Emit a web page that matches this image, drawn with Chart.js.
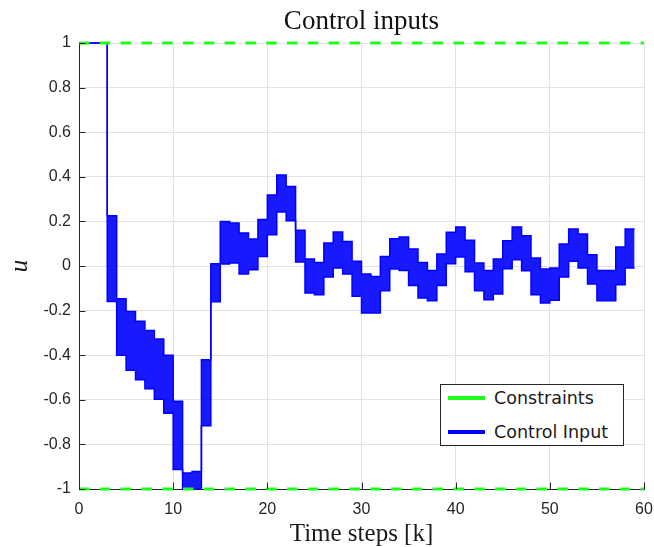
<!DOCTYPE html>
<html>
<head>
<meta charset="utf-8">
<title>Control inputs</title>
<script src="https://cdn.jsdelivr.net/npm/chart.js@4.4.0/dist/chart.umd.min.js"></script>
<style>
  html, body { margin: 0; padding: 0; background: #fff; }
  #wrap { position: relative; width: 654px; height: 547px; }
  #legend {
    position: absolute; left: 440px; top: 384px; width: 184px; height: 62px;
    box-sizing: border-box; border: 1px solid #262626; background: #fff;
    font-family: "DejaVu Sans", sans-serif; font-size: 17.5px; color: #1a1a1a;
  }
  #legend .row { position: absolute; left: 0; height: 20px; display: flex; align-items: center; white-space: nowrap; }
  #legend .swatch { width: 37px; height: 3.5px; margin-left: 7px; margin-right: 9px; }
</style>
</head>
<body>
<div id="wrap">
  <canvas id="chart"></canvas>
  <div id="legend"></div>
</div>
<script>
// time steps (the last one only closes the final hold)
const steps = [0, 1, 2, 3, 4, 5, 6, 7, 8, 9, 10, 11, 12, 13, 14, 15, 16, 17, 18, 19,
  20, 21, 22, 23, 24, 25, 26, 27, 28, 29, 30, 31, 32, 33, 34, 35, 36, 37, 38, 39,
  40, 41, 42, 43, 44, 45, 46, 47, 48, 49, 50, 51, 52, 53, 54, 55, 56, 57, 58, 59];

// upper / lower edge of the bundle of control input runs, held over step k = 0..58
const inputHigh = [1, 1, 1, 0.225, -0.147, -0.204, -0.248, -0.289, -0.327, -0.40,
  -0.607, -0.928, -0.922, -0.42, 0.01, 0.20, 0.193, 0.148, 0.121, 0.208,
  0.318, 0.408, 0.357, 0.16, 0.031, 0.016, 0.103, 0.152, 0.11, 0.021,
  -0.036, -0.047, 0.043, 0.122, 0.13, 0.076, 0.016, -0.02, 0.054, 0.151,
  0.175, 0.115, 0.013, -0.02, 0.031, 0.113, 0.175, 0.136, 0.036, -0.013,
  -0.009, 0.099, 0.166, 0.143, 0.051, -0.02, -0.02, 0.085, 0.166];
const inputLow = [1, 1, 1, -0.159, -0.40, -0.468, -0.51, -0.55, -0.597, -0.66,
  -0.913, -1.0, -1.0, -0.716, -0.16, 0.009, 0.013, -0.036, -0.017, 0.043,
  0.14, 0.242, 0.203, 0.018, -0.121, -0.129, -0.049, -0.009, -0.036, -0.136,
  -0.211, -0.211, -0.111, -0.013, -0.02, -0.087, -0.144, -0.156, -0.087, 0.01,
  0.04, -0.026, -0.111, -0.151, -0.126, -0.012, 0.028, -0.021, -0.129, -0.166,
  -0.154, -0.049, 0.021, -0.009, -0.081, -0.156, -0.156, -0.084, -0.009];

// constraints
const constraintX = [0, 60];
const uMax = [1, 1];
const uMin = [-1, -1];

const xTicks = [0, 10, 20, 30, 40, 50, 60];
const yTicks = [-1, -0.8, -0.6, -0.4, -0.2, 0, 0.2, 0.4, 0.6, 0.8, 1];

const GREEN = '#1fff1f';
const BLUE = '#0000ff';
const AXIS = '#262626';

// zero-order hold: each value is kept from step k to step k+1
function holdPoints(values) {
    const pts = [];
    values.forEach((v, i) => {
        pts.push({ x: steps[i], y: v });
        pts.push({ x: steps[i + 1], y: v });
    });
    return pts;
}

// MATLAB style ticks pointing into the plot
const inwardTicks = {
    id: 'inwardTicks',
    afterDraw(chart) {
        const { ctx, chartArea: a, scales: { x, y } } = chart;
        ctx.save();
        ctx.strokeStyle = AXIS;
        ctx.lineWidth = 1;
        ctx.beginPath();
        x.ticks.forEach(t => {
            const px = Math.round(x.getPixelForValue(t.value)) + 0.5;
            ctx.moveTo(px, a.bottom);
            ctx.lineTo(px, a.bottom - 6.5);
        });
        y.ticks.forEach(t => {
            const py = Math.round(y.getPixelForValue(t.value)) + 0.5;
            ctx.moveTo(a.left, py);
            ctx.lineTo(a.left + 6.5, py);
        });
        ctx.stroke();
        ctx.restore();
    }
};

const tickFont = { family: '"Liberation Sans", Arial, sans-serif', size: 16 };
const serif = '"Liberation Serif", "Times New Roman", serif';

new Chart(document.getElementById('chart'), {
    type: 'line',
    data: {
        datasets: [{
            label: 'Constraints',
            data: constraintX.map((x, i) => ({ x: x, y: uMax[i] })),
            borderColor: GREEN,
            borderWidth: 3,
            borderDash: [10.5, 10.3],
            pointRadius: 0,
            fill: false,
            clip: false,
            order: 0
        }, {
            label: 'Constraints (min)',
            data: constraintX.map((x, i) => ({ x: x, y: uMin[i] })),
            borderColor: GREEN,
            borderWidth: 3,
            borderDash: [10.5, 10.3],
            pointRadius: 0,
            fill: false,
            clip: false,
            order: 0
        }, {
            label: 'Control Input',
            data: holdPoints(inputHigh),
            borderColor: BLUE,
            borderWidth: 1.5,
            backgroundColor: 'rgba(0, 0, 255, 0.9)',
            fill: '+1',
            pointRadius: 0,
            clip: false,
            order: 1
        }, {
            label: 'Control Input (low)',
            data: holdPoints(inputLow),
            borderColor: BLUE,
            borderWidth: 1.5,
            fill: false,
            pointRadius: 0,
            clip: false,
            order: 1
        }]
    },
    options: {
        responsive: true,
        maintainAspectRatio: false,
        animation: false,
        events: [],
        layout: { padding: 0 },
        plugins: {
            legend: { display: false },
            tooltip: { enabled: false },
            title: {
                display: true,
                text: 'Control inputs',
                fullSize: false,
                color: '#111',
                font: { family: serif, size: 27, weight: 'normal', lineHeight: 1.2 },
                padding: { top: 6, bottom: 4.6 }
            }
        },
        scales: {
            x: {
                type: 'linear',
                min: 0,
                max: 60,
                afterBuildTicks: s => { s.ticks = xTicks.map(v => ({ value: v })); },
                afterFit: s => { s.height = 58; s.paddingLeft = 0; s.paddingRight = 10; },
                ticks: { font: tickFont, color: AXIS, padding: 11, maxRotation: 0 },
                grid: { color: '#e2e2e2', drawTicks: false },
                border: { color: AXIS, width: 1 },
                title: {
                    display: true,
                    text: 'Time steps [k]',
                    color: '#1a1a1a',
                    font: { family: serif, size: 25, lineHeight: 1 },
                    padding: { top: 0, bottom: 0.5 }
                }
            },
            y: {
                type: 'linear',
                min: -1,
                max: 1,
                afterBuildTicks: s => { s.ticks = yTicks.map(v => ({ value: v })); },
                afterFit: s => { s.width = 79; },
                ticks: {
                    font: tickFont,
                    color: AXIS,
                    padding: 8,
                    callback: v => String(Math.round(v * 10) / 10)
                },
                grid: { color: '#e2e2e2', drawTicks: false },
                border: { color: AXIS, width: 1 },
                title: {
                    display: true,
                    text: 'u',
                    color: '#1a1a1a',
                    font: { family: serif, size: 25, style: 'italic', lineHeight: 1.2 },
                    padding: { top: 5.5, bottom: 0 }
                }
            }
        }
    },
    plugins: [inwardTicks]
});

// legend box inside the axes, bottom right
const legendItems = [
    { text: 'Constraints', color: GREEN, top: 3 },
    { text: 'Control Input', color: BLUE, top: 37 }
];
const legendBox = document.getElementById('legend');
legendItems.forEach(item => {
    const row = document.createElement('div');
    row.className = 'row';
    row.style.top = item.top + 'px';
    const sw = document.createElement('span');
    sw.className = 'swatch';
    sw.style.background = item.color;
    const label = document.createElement('span');
    label.textContent = item.text;
    row.appendChild(sw);
    row.appendChild(label);
    legendBox.appendChild(row);
});
</script>
</body>
</html>
